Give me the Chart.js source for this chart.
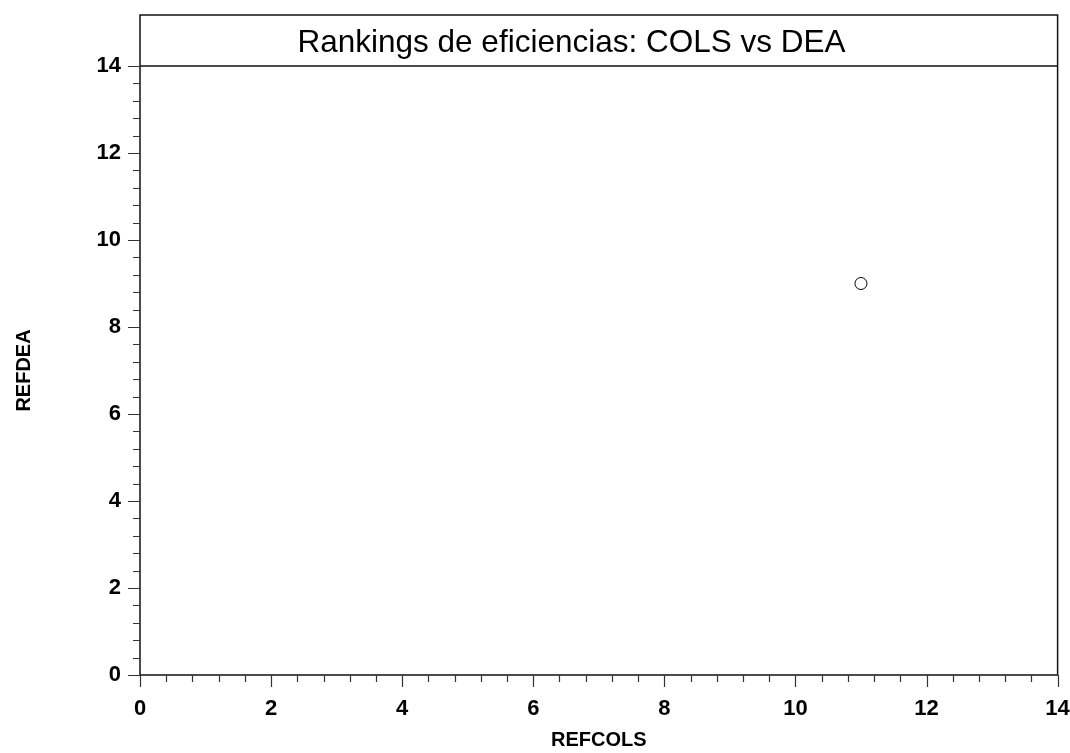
<!DOCTYPE html>
<html>
<head>
<meta charset="utf-8">
<script src="https://cdn.jsdelivr.net/npm/chart.js@4/dist/chart.umd.min.js"></script>
<style>
  html, body { margin: 0; padding: 0; background: #fff; }
  #wrap { width: 1070px; height: 753px; }
</style>
</head>
<body>
<div id="wrap"><canvas id="rankChart" width="1070" height="753"></canvas></div>
<script>
// data
const refcols = [11];
const refdea = [9];
const axisMin = 0;
const axisMax = 14;
const majorStep = 2;
const minorPerMajor = 5;   // 0.4 spacing
const chartTitle = 'Rankings de eficiencias: COLS vs DEA';
const xTitle = 'REFCOLS';
const yTitle = 'REFDEA';

const fontFamily = '"Liberation Sans", Arial, sans-serif';

const getPoints = function (xs, ys) {
    let pts = [];
    for (var i = 0; i < xs.length; i++) {
        pts.push({x: xs[i], y: ys[i]})
    }
    return pts
};

// frame, title box and the major/minor tick marks
const framePlugin = {
    id: 'frame',
    afterDraw(chart) {
        const ctx = chart.ctx;
        const area = chart.chartArea;
        const xs = chart.scales.x;
        const ys = chart.scales.y;
        const boxTop = 15;
        ctx.save();
        ctx.strokeStyle = '#111';
        ctx.lineWidth = 1.5;
        ctx.strokeRect(area.left, boxTop, area.right - area.left, area.bottom - boxTop);
        ctx.beginPath();
        ctx.moveTo(area.left, area.top);
        ctx.lineTo(area.right, area.top);
        ctx.stroke();

        ctx.lineWidth = 1.2;
        ctx.strokeStyle = '#333';
        const n = (axisMax - axisMin) / majorStep * minorPerMajor;
        for (var i = 0; i <= n; i++) {
            const v = axisMin + i * majorStep / minorPerMajor;
            const len = (i % minorPerMajor === 0) ? 12 : 7;
            const px = Math.round(xs.getPixelForValue(v)) + 0.5;
            const py = Math.round(ys.getPixelForValue(v)) + 0.5;
            ctx.beginPath();
            ctx.moveTo(px, area.bottom);
            ctx.lineTo(px, area.bottom + len);
            ctx.moveTo(area.left, py);
            ctx.lineTo(area.left - len, py);
            ctx.stroke();
        }

        ctx.fillStyle = '#000';
        ctx.font = '31.5px ' + fontFamily;
        ctx.textAlign = 'center';
        ctx.textBaseline = 'alphabetic';
        ctx.fillText(chartTitle, 571.5, 51.5);
        ctx.restore();
    }
};

const tickFont = {family: fontFamily, size: 22, weight: 'bold'};
const labelFont = {family: fontFamily, size: 20, weight: 'bold'};

const rankChart = new Chart(document.getElementById('rankChart'), {
    type: 'scatter',
    data: {
        datasets: [{
            label: 'REFDEA',
            data: getPoints(refcols, refdea),
            pointStyle: 'circle',
            pointRadius: 6,
            pointHoverRadius: 6,
            backgroundColor: '#fff',
            borderColor: '#000',
            borderWidth: 1
        }]
    },
    options: {
        responsive: false,
        animation: false,
        layout: {
            padding: {top: 66, right: 12.4, left: 0, bottom: 0}
        },
        scales: {
            x: {
                type: 'linear',
                min: axisMin,
                max: axisMax,
                border: {display: false},
                grid: {display: false, drawTicks: true, tickLength: 12},
                ticks: {
                    stepSize: majorStep,
                    padding: 9,
                    color: '#000',
                    font: tickFont,
                    maxRotation: 0
                },
                title: {
                    display: true,
                    text: xTitle,
                    color: '#000',
                    font: labelFont,
                    padding: {top: 0, bottom: 1}
                },
                afterFit: function (scale) {
                    scale.height = 78;
                    scale.paddingLeft = 0;
                    scale.paddingRight = 0;
                }
            },
            y: {
                type: 'linear',
                min: axisMin,
                max: axisMax,
                border: {display: false},
                grid: {display: false, drawTicks: true, tickLength: 12},
                ticks: {
                    stepSize: majorStep,
                    padding: 7,
                    color: '#000',
                    font: tickFont
                },
                title: {
                    display: true,
                    text: yTitle,
                    color: '#000',
                    font: labelFont,
                    padding: {top: 12, bottom: 0}
                },
                afterFit: function (scale) {
                    scale.width = 140;
                    scale.paddingTop = 0;
                    scale.paddingBottom = 0;
                }
            }
        },
        plugins: {
            legend: {display: false},
            tooltip: {enabled: false}
        }
    },
    plugins: [framePlugin]
});
</script>
</body>
</html>
